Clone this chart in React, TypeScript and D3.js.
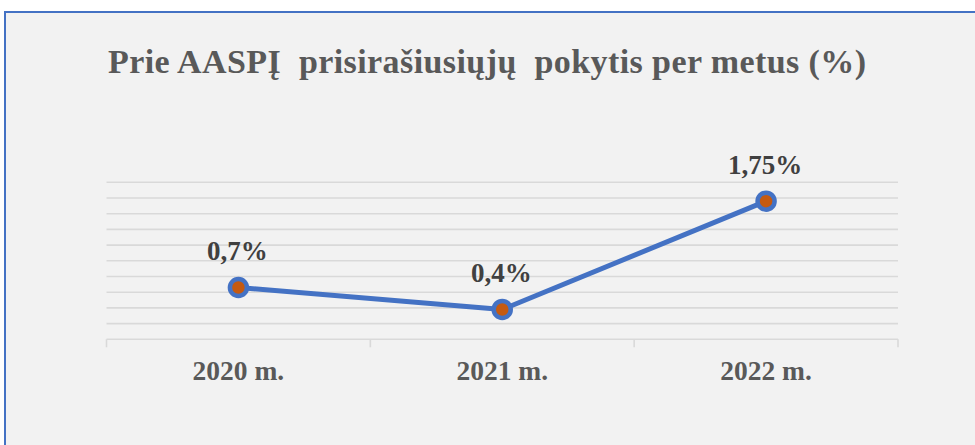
import React from "react";
import * as d3 from "d3";

const title = "Prie AASPĮ  prisirašiusiųjų  pokytis per metus (%)";
const categories = ["2020 m.", "2021 m.", "2022 m."];
const values = [0.66, 0.38, 1.76];
const valueLabels = ["0,7%", "0,4%", "1,75%"];
const gridTicks = [0.2, 0.4, 0.6, 0.8, 1.0, 1.2, 1.4, 1.6, 1.8, 2.0];

const W = 975;
const H = 445;

export default function App() {
  const x = d3.scaleBand<string>().domain(categories).range([106.5, 898]);
  const y = d3.scaleLinear().domain([0, 2]).range([339.3, 182.3]);
  const cx = (c: string) => (x(c) as number) + x.bandwidth() / 2;
  const line = d3
    .line<number>()
    .x((_, i) => cx(categories[i]))
    .y((d) => y(d));
  const boundaries = [...categories.map((c) => x(c) as number), 898];
  const font = "'Liberation Serif', 'Times New Roman', serif";

  return (
    <svg
      width={W}
      height={H}
      style={{ position: "absolute", left: 0, top: 0, display: "block" }}
    >
      <rect x={0} y={0} width={W} height={H} fill="#ffffff" />
      <rect x={4} y={11} width={W} height={H} fill="#f2f2f2" />
      <line x1={5} x2={5} y1={11} y2={H} stroke="#4472c4" strokeWidth={2} />
      <line x1={4} x2={W} y1={12} y2={12} stroke="#4472c4" strokeWidth={2} />

      <text
        x={108}
        y={72.7}
        textAnchor="start"
        fontFamily={font}
        fontWeight="bold"
        fontSize={34}
        fill="#595959"
        textLength={758}
        lengthAdjust="spacing"
        style={{ whiteSpace: "pre" }}
        xmlSpace="preserve"
      >
        {title}
      </text>

      {gridTicks.map((t) => (
        <line
          key={t}
          x1={106.5}
          x2={898}
          y1={y(t)}
          y2={y(t)}
          stroke="#d9d9d9"
          strokeWidth={1.6}
        />
      ))}
      <line x1={106.5} x2={898} y1={y(0)} y2={y(0)} stroke="#d9d9d9" strokeWidth={1.6} />
      {boundaries.map((b, i) => (
        <line key={i} x1={b} x2={b} y1={y(0)} y2={y(0) + 8} stroke="#d9d9d9" strokeWidth={1.6} />
      ))}

      {categories.map((c) => (
        <text
          key={c}
          x={cx(c)}
          y={380}
          textAnchor="middle"
          fontFamily={font}
          fontWeight="bold"
          fontSize={27.5}
          fill="#595959"
        >
          {c}
        </text>
      ))}

      <path d={line(values) || ""} fill="none" stroke="#4472c4" strokeWidth={5} strokeLinejoin="round" />
      {values.map((v, i) => (
        <circle
          key={i}
          cx={cx(categories[i])}
          cy={y(v)}
          r={8.5}
          fill="#c55a11"
          stroke="#4472c4"
          strokeWidth={4.5}
        />
      ))}
      {values.map((v, i) => (
        <text
          key={i}
          x={cx(categories[i]) - 1}
          y={y(v) - 27.5}
          textAnchor="middle"
          fontFamily={font}
          fontWeight="bold"
          fontSize={27}
          fill="#404040"
        >
          {valueLabels[i]}
        </text>
      ))}
    </svg>
  );
}
